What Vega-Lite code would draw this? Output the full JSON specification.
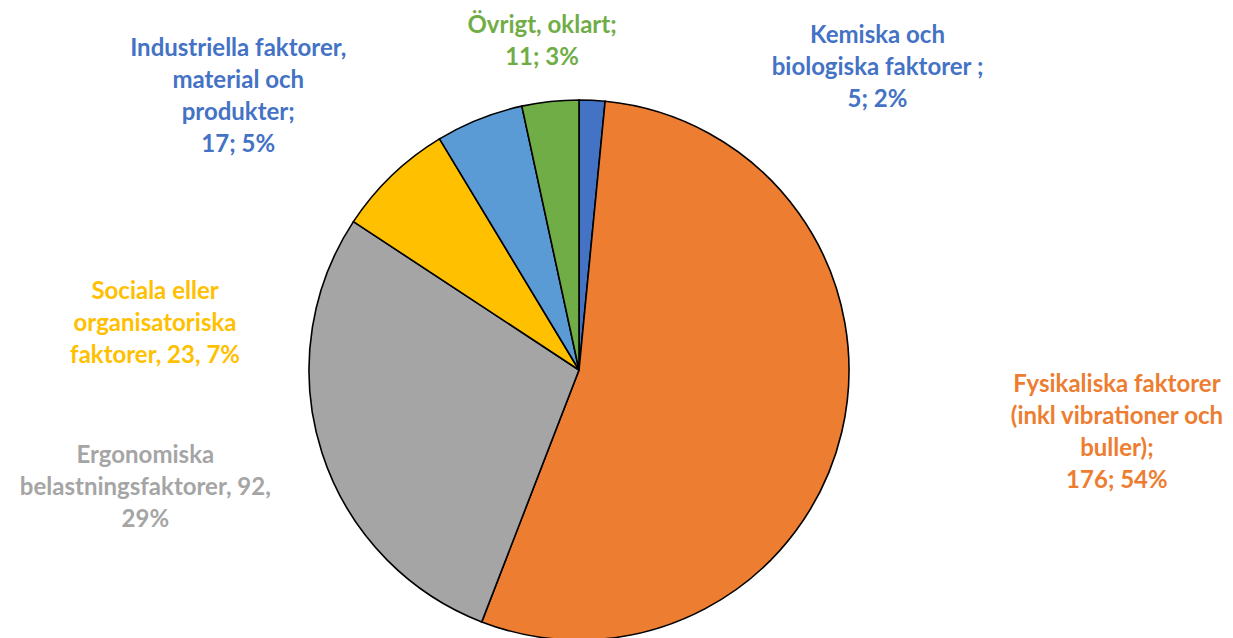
{
  "$schema": "https://vega.github.io/schema/vega-lite/v6.json",
  "width": 1158,
  "height": 536,
  "autosize": {"type": "none"},
  "padding": {"left": 0, "top": 102, "right": 75, "bottom": 0},
  "background": "white",
  "config": {"view": {"stroke": null}},
  "data": {
    "values": [
      {"n": 1, "kategori": "Kemiska och biologiska faktorer", "antal": 5, "etikett": "Kemiska och\nbiologiska faktorer ;\n5; 2%"},
      {"n": 2, "kategori": "Fysikaliska faktorer", "antal": 176, "etikett": "Fysikaliska faktorer\n(inkl vibrationer och\nbuller);\n176; 54%"},
      {"n": 3, "kategori": "Ergonomiska belastningsfaktorer", "antal": 92, "etikett": "Ergonomiska\nbelastningsfaktorer, 92,\n29%"},
      {"n": 4, "kategori": "Sociala eller organisatoriska faktorer", "antal": 23, "etikett": "Sociala eller\norganisatoriska\nfaktorer, 23, 7%"},
      {"n": 5, "kategori": "Industriella faktorer, material och produkter", "antal": 17, "etikett": "Industriella faktorer,\nmaterial och\nprodukter;\n17; 5%"},
      {"n": 6, "kategori": "Övrigt, oklart", "antal": 11, "etikett": "Övrigt, oklart;\n11; 3%"}
    ]
  },
  "encoding": {
    "theta": {"field": "antal", "type": "quantitative", "stack": true},
    "order": {"field": "n", "type": "quantitative"}
  },
  "layer": [
    {
      "mark": {"type": "arc", "radius": 270, "stroke": "black", "strokeWidth": 1.6},
      "encoding": {
        "color": {
          "field": "kategori",
          "type": "nominal",
          "legend": null,
          "scale": {
            "domain": ["Kemiska och biologiska faktorer", "Fysikaliska faktorer", "Ergonomiska belastningsfaktorer", "Sociala eller organisatoriska faktorer", "Industriella faktorer, material och produkter", "Övrigt, oklart"],
            "range": ["#4472C4", "#ED7D31", "#A5A5A5", "#FFC000", "#5B9BD5", "#70AD47"]
          }
        }
      }
    },
    {
      "mark": {"type": "text", "radius": 300, "dx": 284, "dy": -27, "align": "center", "baseline": "alphabetic", "font": "Lato", "fontSize": 24, "fontWeight": "bold", "lineHeight": 32, "lineBreak": "\n", "color": "#4472C4"},
      "encoding": {"text": {"condition": {"test": "datum.n == 1", "field": "etikett"}, "value": ""}}
    },
    {
      "mark": {"type": "text", "radius": 300, "dx": 246, "dy": -47, "align": "center", "baseline": "alphabetic", "font": "Lato", "fontSize": 24, "fontWeight": "bold", "lineHeight": 32, "lineBreak": "\n", "color": "#ED7D31"},
      "encoding": {"text": {"condition": {"test": "datum.n == 2", "field": "etikett"}, "value": ""}}
    },
    {
      "mark": {"type": "text", "radius": 300, "dx": -148, "dy": 1, "align": "center", "baseline": "alphabetic", "font": "Lato", "fontSize": 24, "fontWeight": "bold", "lineHeight": 32, "lineBreak": "\n", "color": "#A5A5A5"},
      "encoding": {"text": {"condition": {"test": "datum.n == 3", "field": "etikett"}, "value": ""}}
    },
    {
      "mark": {"type": "text", "radius": 300, "dx": -216, "dy": 145, "align": "center", "baseline": "alphabetic", "font": "Lato", "fontSize": 24, "fontWeight": "bold", "lineHeight": 32, "lineBreak": "\n", "color": "#FFC000"},
      "encoding": {"text": {"condition": {"test": "datum.n == 4", "field": "etikett"}, "value": ""}}
    },
    {
      "mark": {"type": "text", "radius": 300, "dx": -230, "dy": -35, "align": "center", "baseline": "alphabetic", "font": "Lato", "fontSize": 24, "fontWeight": "bold", "lineHeight": 32, "lineBreak": "\n", "color": "#4472C4"},
      "encoding": {"text": {"condition": {"test": "datum.n == 5", "field": "etikett"}, "value": ""}}
    },
    {
      "mark": {"type": "text", "radius": 300, "dx": -5, "dy": -39, "align": "center", "baseline": "alphabetic", "font": "Lato", "fontSize": 24, "fontWeight": "bold", "lineHeight": 32, "lineBreak": "\n", "color": "#70AD47"},
      "encoding": {"text": {"condition": {"test": "datum.n == 6", "field": "etikett"}, "value": ""}}
    }
  ]
}
